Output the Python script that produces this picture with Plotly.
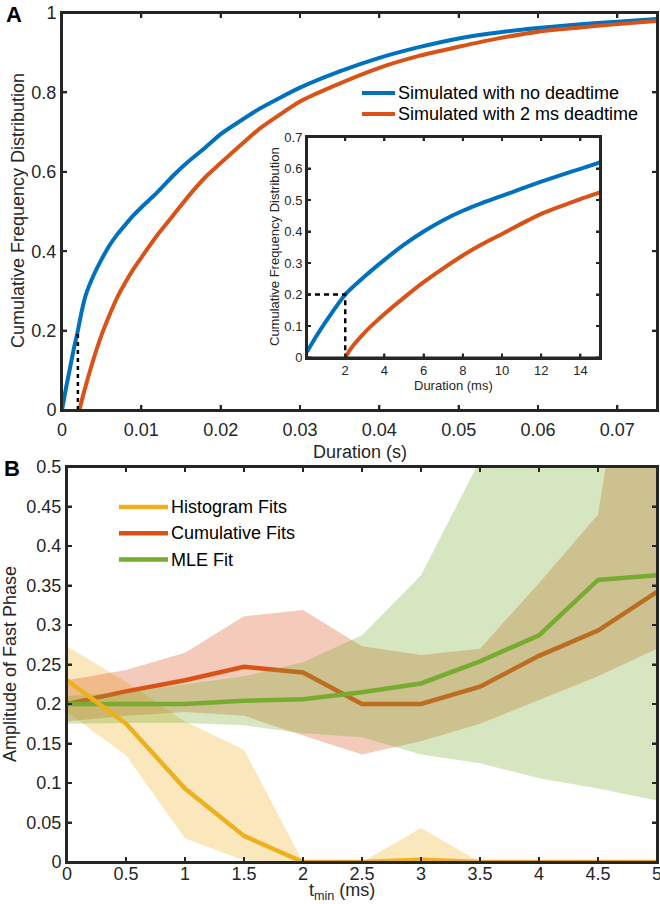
import plotly.graph_objects as go

# ---------------- Panel A data ----------------
dur_blue_s = [0, 0.0005, 0.001, 0.0015, 0.002, 0.0025, 0.003, 0.004, 0.005, 0.006, 0.007,
              0.008, 0.009, 0.010, 0.012, 0.014, 0.016, 0.018, 0.020, 0.025, 0.030, 0.035,
              0.040, 0.045, 0.050, 0.055, 0.060, 0.065, 0.070, 0.075]
cfd_blue = [0, 0.055, 0.105, 0.155, 0.20, 0.25, 0.29, 0.34, 0.38, 0.415, 0.443,
            0.467, 0.49, 0.51, 0.548, 0.59, 0.627, 0.66, 0.695, 0.76, 0.812, 0.853,
            0.887, 0.914, 0.936, 0.951, 0.962, 0.971, 0.978, 0.985]
dur_orange_s = [0.0022, 0.0027, 0.0032, 0.004, 0.005, 0.006, 0.007, 0.008, 0.009, 0.010,
                0.012, 0.014, 0.016, 0.018, 0.020, 0.025, 0.030, 0.034, 0.040, 0.045,
                0.050, 0.055, 0.060, 0.065, 0.070, 0.075]
cfd_orange = [0, 0.04, 0.076, 0.13, 0.19, 0.24, 0.285, 0.322, 0.355, 0.384,
              0.44, 0.49, 0.54, 0.585, 0.622, 0.71, 0.777, 0.814, 0.862, 0.892,
              0.915, 0.936, 0.953, 0.963, 0.972, 0.98]

inset_blue_ms = [0.05, 0.5, 1, 1.5, 2, 3, 4, 5, 6, 7, 8, 9, 10, 11, 12, 13, 14, 15]
inset_cfd_blue = [0.018, 0.065, 0.113, 0.158, 0.2, 0.258, 0.31, 0.358, 0.4, 0.436,
                  0.466, 0.491, 0.513, 0.536, 0.558, 0.579, 0.599, 0.619]
inset_orange_ms = [2, 2.25, 2.5, 3, 3.5, 4, 5, 6, 7, 8, 9, 10, 11, 12, 13, 14, 15]
inset_cfd_orange = [0, 0.025, 0.045, 0.08, 0.11, 0.138, 0.19, 0.239, 0.283, 0.324, 0.36,
                    0.392, 0.425, 0.456, 0.48, 0.503, 0.524]

deadtime_s = 0.002
deadtime_ms = 2
cfd_at_deadtime = 0.2

main_xrange = [0, 0.075]
main_yrange = [0, 1]
inset_xrange = [0.05, 15]
inset_yrange = [0, 0.7]
main_xticks = [0, 0.01, 0.02, 0.03, 0.04, 0.05, 0.06, 0.07]
main_xticktext = ["0", "0.01", "0.02", "0.03", "0.04", "0.05", "0.06", "0.07"]
main_yticks = [0, 0.2, 0.4, 0.6, 0.8, 1]
main_yticktext = ["0", "0.2", "0.4", "0.6", "0.8", "1"]
inset_xticks = [2, 4, 6, 8, 10, 12, 14]
inset_yticks = [0, 0.1, 0.2, 0.3, 0.4, 0.5, 0.6, 0.7]
inset_yticktext = ["0", "0.1", "0.2", "0.3", "0.4", "0.5", "0.6", "0.7"]
legend_a = ["Simulated with no deadtime", "Simulated with 2 ms deadtime"]

# ---------------- Panel B data ----------------
tmin_ms = [0, 0.5, 1, 1.5, 2, 2.5, 3, 3.5, 4, 4.5, 5]
hist_amp = [0.230, 0.175, 0.093, 0.033, 0, 0, 0.003, 0, 0, 0, 0]
hist_hi = [0.273, 0.228, 0.178, 0.142, 0, 0, 0.043, 0, 0, 0, 0]
hist_lo = [0.19, 0.135, 0.030, 0.002, 0, 0, 0, 0, 0, 0, 0]
cum_amp = [0.200, 0.216, 0.230, 0.247, 0.240, 0.200, 0.200, 0.222, 0.261, 0.293, 0.342]
cum_hi = [0.230, 0.243, 0.265, 0.311, 0.319, 0.273, 0.262, 0.270, 0.353, 0.440, 0.900]
cum_lo = [0.178, 0.185, 0.190, 0.185, 0.160, 0.136, 0.153, 0.175, 0.205, 0.235, 0.270]
mle_amp = [0.200, 0.200, 0.200, 0.204, 0.206, 0.215, 0.226, 0.254, 0.287, 0.357, 0.363]
mle_hi = [0.210, 0.215, 0.225, 0.235, 0.253, 0.287, 0.363, 0.510, 0.650, 0.800, 0.900]
mle_lo = [0.175, 0.176, 0.176, 0.173, 0.163, 0.158, 0.136, 0.125, 0.106, 0.093, 0.078]

b_xrange = [0, 5]
b_yrange = [0, 0.5]
b_xticks = [0, 0.5, 1, 1.5, 2, 2.5, 3, 3.5, 4, 4.5, 5]
b_xticktext = ["0", "0.5", "1", "1.5", "2", "2.5", "3", "3.5", "4", "4.5", "5"]
b_yticks = [0, 0.05, 0.1, 0.15, 0.2, 0.25, 0.3, 0.35, 0.4, 0.45, 0.5]
b_yticktext = ["0", "0.05", "0.1", "0.15", "0.2", "0.25", "0.3", "0.35", "0.4", "0.45", "0.5"]
legend_b = ["Histogram Fits", "Cumulative Fits", "MLE Fit"]

# ---------------- styling ----------------
BLUE = "#0072BD"
ORANGE = "#D95319"
YELLOW = "#EDB120"
GREEN = "#77AC30"
AX = "#262626"
FONT = "Arial, Liberation Sans, Helvetica, sans-serif"

W, H = 660, 904


def px(x):
    return x / W


def py(y):
    return 1 - y / H


fig = go.Figure()

# ----- Panel A main -----
fig.add_trace(go.Scatter(x=dur_blue_s, y=cfd_blue, mode="lines",
                         line=dict(color=BLUE, width=4, shape="spline", smoothing=0.5),
                         name=legend_a[0], xaxis="x", yaxis="y", showlegend=False))
fig.add_trace(go.Scatter(x=dur_orange_s, y=cfd_orange, mode="lines",
                         line=dict(color=ORANGE, width=4, shape="spline", smoothing=0.5),
                         name=legend_a[1], xaxis="x", yaxis="y", showlegend=False))
fig.add_trace(go.Scatter(x=[deadtime_s, deadtime_s], y=[0, cfd_at_deadtime], mode="lines",
                         line=dict(color="black", width=2.5, dash="4px,4px"),
                         showlegend=False, xaxis="x", yaxis="y"))

# ----- Inset -----
fig.add_trace(go.Scatter(x=inset_blue_ms, y=inset_cfd_blue, mode="lines",
                         line=dict(color=BLUE, width=4, shape="spline", smoothing=0.5),
                         showlegend=False, xaxis="x3", yaxis="y3"))
fig.add_trace(go.Scatter(x=inset_orange_ms, y=inset_cfd_orange, mode="lines",
                         line=dict(color=ORANGE, width=4, shape="spline", smoothing=0.5),
                         showlegend=False, xaxis="x3", yaxis="y3"))
fig.add_trace(go.Scatter(x=[0, deadtime_ms, deadtime_ms], y=[cfd_at_deadtime, cfd_at_deadtime, 0],
                         mode="lines", line=dict(color="black", width=2.5, dash="5px,4px"),
                         showlegend=False, xaxis="x3", yaxis="y3"))


# ----- Panel B -----
def band(t, hi, lo):
    return list(t) + list(t)[::-1], list(hi) + list(lo)[::-1]


bx, by = band(tmin_ms, hist_hi, hist_lo)
fig.add_trace(go.Scatter(x=bx, y=by, fill="toself", fillcolor="rgba(237,177,32,0.3)",
                         line=dict(width=0), mode="lines", showlegend=False, hoverinfo="skip",
                         xaxis="x2", yaxis="y2"))
bx, by = band(tmin_ms, cum_hi, cum_lo)
fig.add_trace(go.Scatter(x=bx, y=by, fill="toself", fillcolor="rgba(217,83,25,0.3)",
                         line=dict(width=0), mode="lines", showlegend=False, hoverinfo="skip",
                         xaxis="x2", yaxis="y2"))
fig.add_trace(go.Scatter(x=tmin_ms, y=cum_amp, mode="lines", line=dict(color=ORANGE, width=4.5),
                         name=legend_b[1], showlegend=False, xaxis="x2", yaxis="y2"))
bx, by = band(tmin_ms, mle_hi, mle_lo)
fig.add_trace(go.Scatter(x=bx, y=by, fill="toself", fillcolor="rgba(119,172,48,0.3)",
                         line=dict(width=0), mode="lines", showlegend=False, hoverinfo="skip",
                         xaxis="x2", yaxis="y2"))
fig.add_trace(go.Scatter(x=tmin_ms, y=mle_amp, mode="lines", line=dict(color=GREEN, width=4.5),
                         name=legend_b[2], showlegend=False, xaxis="x2", yaxis="y2"))
fig.add_trace(go.Scatter(x=tmin_ms, y=hist_amp, mode="lines", line=dict(color=YELLOW, width=4.5),
                         name=legend_b[0], showlegend=False, xaxis="x2", yaxis="y2"))

axis_common = dict(showline=True, linecolor=AX, linewidth=2, mirror="ticks", ticks="inside",
                   ticklen=5, tickwidth=2, tickcolor=AX, showgrid=False, zeroline=False,
                   automargin=False, tickfont=dict(family=FONT, size=18, color=AX))
inset_common = dict(axis_common)
inset_common["tickfont"] = dict(family=FONT, size=13, color=AX)
inset_common["ticklen"] = 4

annotations = []
shapes = []


# axes frame and inward ticks on all four sides (MATLAB "box on" look)
def frame_and_ticks(xa, ya, xr, yr, xt, yt, tl):
    shapes.append(dict(type="rect", xref=xa + " domain", yref=ya + " domain",
                       x0=0, x1=1, y0=0, y1=1, line=dict(color=AX, width=2),
                       fillcolor="rgba(0,0,0,0)", layer="above"))
    for v in xt:
        for anc, (a, b) in ((yr[0], (0, tl)), (yr[1], (-tl, 0))):
            shapes.append(dict(type="line", xref=xa, yref=ya, x0=v, x1=v,
                               ysizemode="pixel", yanchor=anc, y0=a, y1=b,
                               line=dict(color=AX, width=2), layer="above"))
    for v in yt:
        for anc, (a, b) in ((xr[0], (0, tl)), (xr[1], (-tl, 0))):
            shapes.append(dict(type="line", xref=xa, yref=ya, y0=v, y1=v,
                               xsizemode="pixel", xanchor=anc, x0=a, x1=b,
                               line=dict(color=AX, width=2), layer="above"))


frame_and_ticks("x", "y", main_xrange, main_yrange, main_xticks, main_yticks, 5)
frame_and_ticks("x2", "y2", b_xrange, b_yrange, b_xticks, b_yticks, 5)
frame_and_ticks("x3", "y3", inset_xrange, inset_yrange, inset_xticks, inset_yticks, 4)

# manual legends (text + sample line)
for i, (label, col) in enumerate(zip(legend_a, [BLUE, ORANGE])):
    yc = 93 + 21 * i
    shapes.append(dict(type="line", xref="paper", yref="paper", x0=px(362), x1=px(395),
                       y0=py(yc), y1=py(yc), line=dict(color=col, width=4)))
    annotations.append(dict(text=label, x=px(396), y=py(yc), xref="paper", yref="paper",
                            xanchor="left", yanchor="middle", showarrow=False,
                            font=dict(family=FONT, size=18, color="black")))
for i, (label, col) in enumerate(zip(legend_b, [YELLOW, ORANGE, GREEN])):
    yc = 507 + 26.3 * i
    shapes.append(dict(type="line", xref="paper", yref="paper", x0=px(119), x1=px(168),
                       y0=py(yc), y1=py(yc), line=dict(color=col, width=4.5)))
    annotations.append(dict(text=label, x=px(169), y=py(yc), xref="paper", yref="paper",
                            xanchor="left", yanchor="middle", showarrow=False,
                            font=dict(family=FONT, size=18, color="black")))

annotations += [
    dict(text="<b>A</b>", x=px(14), y=py(15), xref="paper", yref="paper",
         xanchor="center", yanchor="middle", showarrow=False,
         font=dict(family=FONT, size=22, color="black")),
    dict(text="<b>B</b>", x=px(12), y=py(468), xref="paper", yref="paper",
         xanchor="center", yanchor="middle", showarrow=False,
         font=dict(family=FONT, size=22, color="black")),
    dict(text="Cumulative Frequency Distribution", x=px(18), y=py(211), xref="paper",
         yref="paper", textangle=-90, xanchor="center", yanchor="middle", showarrow=False,
         font=dict(family=FONT, size=18, color=AX)),
    dict(text="Duration (s)", x=px(360), y=py(452), xref="paper", yref="paper",
         xanchor="center", yanchor="middle", showarrow=False,
         font=dict(family=FONT, size=18, color=AX)),
    dict(text="Cumulative Frequency Distribution", x=px(275), y=py(247), xref="paper",
         yref="paper", textangle=-90, xanchor="center", yanchor="middle", showarrow=False,
         font=dict(family=FONT, size=13, color=AX)),
    dict(text="Duration (ms)", x=px(453), y=py(385), xref="paper", yref="paper",
         xanchor="center", yanchor="middle", showarrow=False,
         font=dict(family=FONT, size=13, color=AX)),
    dict(text="Amplitude of Fast Phase", x=px(10), y=py(664), xref="paper",
         yref="paper", textangle=-90, xanchor="center", yanchor="middle", showarrow=False,
         font=dict(family=FONT, size=18, color=AX)),
    dict(text="t<sub>min</sub> (ms)", x=px(342), y=py(891), xref="paper", yref="paper",
         xanchor="center", yanchor="middle", showarrow=False,
         font=dict(family=FONT, size=18, color=AX)),
]

fig.update_layout(
    width=W, height=H, margin=dict(l=0, r=0, t=0, b=0),
    paper_bgcolor="white", plot_bgcolor="white", showlegend=False,
    font=dict(family=FONT, color=AX),
    xaxis=dict(axis_common, domain=[px(62), px(657)], anchor="y", range=main_xrange,
               tickvals=main_xticks, ticktext=main_xticktext, ticklabelstandoff=2),
    yaxis=dict(axis_common, domain=[py(410), py(13)], anchor="x", range=main_yrange,
               tickvals=main_yticks, ticktext=main_yticktext),
    xaxis2=dict(axis_common, domain=[px(67), px(657)], anchor="y2", range=b_xrange,
                tickvals=b_xticks, ticktext=b_xticktext, ticklabelstandoff=-6,
                ticklabeloverflow="allow"),
    yaxis2=dict(axis_common, domain=[py(862), py(467)], anchor="x2", range=b_yrange,
                tickvals=b_yticks, ticktext=b_yticktext),
    xaxis3=dict(inset_common, domain=[px(307), px(600)], anchor="y3", range=inset_xrange,
                tickvals=inset_xticks),
    yaxis3=dict(inset_common, domain=[py(357.5), py(137)], anchor="x3", range=inset_yrange,
                tickvals=inset_yticks, ticktext=inset_yticktext),
    annotations=annotations,
    shapes=shapes,
)

fig.write_html("out.html", config={"displayModeBar": False},
               post_script="document.body.style.margin='0';")
